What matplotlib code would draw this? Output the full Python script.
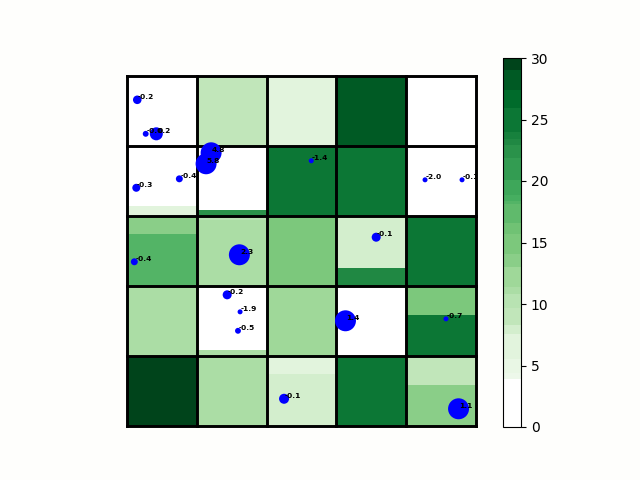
import matplotlib
matplotlib.use("Agg")
import matplotlib.pyplot as plt
from matplotlib.colors import BoundaryNorm, ListedColormap
from matplotlib.cm import ScalarMappable
import numpy as np

# colour scale boundaries
bounds = [0, 3.9, 4.4, 5.5, 7.6, 8.3, 9.7, 10.8, 11.4, 13, 14.1, 15.7, 16.6, 18.1, 18.4,
          18.9, 20.1, 21.9, 22.9, 23.4, 24, 25.9, 27.4, 29, 30]
# position of each colour bin along the Greens map (first bin is white)
bin_shades = [0.07, 0.10, 0.14, 0.20, 0.27, 0.30, 0.34, 0.38, 0.44, 0.48, 0.51, 0.55,
              0.58, 0.61, 0.64, 0.68, 0.72, 0.76, 0.79, 0.83, 0.88, 0.93, 1.0]

# each grid cell: lower value, upper value, fraction of the cell taken by the lower value
cell_lower = [[0, 9, 6.5, 27.5, 0],
              [6.5, 22.5, 25, 25, 0],
              [18.2, 11.1, 15, 23.2, 25],
              [11.1, 11.1, 12, 0, 25],
              [29.5, 11.1, 8, 25, 13.5]]
cell_upper = [[0, 9, 6.5, 27.5, 0],
              [0, 0, 25, 25, 0],
              [13.5, 10.2, 15, 8, 25],
              [11.1, 0, 12, 0, 15],
              [29.5, 11.1, 6.5, 25, 9]]
cell_split = [[1, 1, 1, 1, 1],
              [0.14, 0.08, 1, 1, 1],
              [0.74, 0.94, 1, 0.26, 1],
              [1, 0.09, 1, 1, 0.58],
              [1, 1, 0.75, 1, 0.58]]

# points: position in grid units, marker size, label
point_x = [0.147, 0.268, 0.42, 1.205, 1.133, 0.75, 0.133, 2.64, 4.27, 4.80,
           0.105, 1.61, 1.435, 1.62, 1.59, 3.57, 3.13, 4.57, 2.25, 4.75]
point_y = [4.66, 4.174, 4.174, 3.903, 3.746, 3.531, 3.403, 3.789, 3.517, 3.517,
           2.346, 2.446, 1.874, 1.631, 1.36, 2.697, 1.503, 1.531, 0.389, 0.246]
point_size = [38, 18, 88, 228, 228, 25, 33, 13, 13, 13,
              25, 228, 42, 13, 18, 42, 228, 13, 52, 228]
point_label = ["-0.2", "-0.0", "0.2", "4.8", "5.8", "-0.4", "-0.3", "-1.4", "-2.0", "-0.1",
               "-0.4", "2.3", "-0.2", "-1.9", "-0.5", "-0.1", "1.4", "-0.7", "-0.1", "1.1"]

greens = plt.get_cmap("Greens")
colors = ["white"] + [greens(t) for t in bin_shades]
cmap = ListedColormap(colors)
norm = BoundaryNorm(bounds, cmap.N)

fig = plt.figure(figsize=(6.4, 4.8), dpi=100, facecolor="#fefefc")
ax = fig.add_axes([127 / 640, 1 - 426 / 480, 349 / 640, 350 / 480])
ax.set_xlim(0, 5)
ax.set_ylim(0, 5)
ax.axis("off")

for r in range(5):
    base = 4 - r
    for c in range(5):
        f = cell_split[r][c]
        ax.bar(c, f, width=1, bottom=base, align="edge",
               color=cmap(norm(cell_lower[r][c])), linewidth=0, zorder=1)
        if f < 1:
            ax.bar(c, 1 - f, width=1, bottom=base + f, align="edge",
                   color=cmap(norm(cell_upper[r][c])), linewidth=0, zorder=1)

for i in range(6):
    ax.plot([i, i], [0, 5], color="black", lw=2.1, zorder=2, clip_on=False, solid_capstyle="projecting")
    ax.plot([0, 5], [i, i], color="black", lw=2.1, zorder=2, clip_on=False, solid_capstyle="projecting")

ax.scatter(point_x, point_y, s=point_size, color="blue", linewidths=0, zorder=3, clip_on=False)
for x, y, t in zip(point_x, point_y, point_label):
    ax.annotate(t, (x, y), xytext=(0.6, 0.8), textcoords="offset points",
                fontsize=5.4, fontweight="bold", color="black", zorder=4, clip_on=True)

cax = fig.add_axes([502.5 / 640, 1 - 427 / 480, 18.5 / 640, 369 / 480])
cb = fig.colorbar(ScalarMappable(norm=norm, cmap=cmap), cax=cax, spacing="proportional",
                  ticks=[0, 5, 10, 15, 20, 25, 30])
cb.ax.minorticks_off()
cb.ax.set_yticklabels(["0", "5", "10", "15", "20", "25", "30"])

fig.savefig("out.png", dpi=100, facecolor=fig.get_facecolor())
